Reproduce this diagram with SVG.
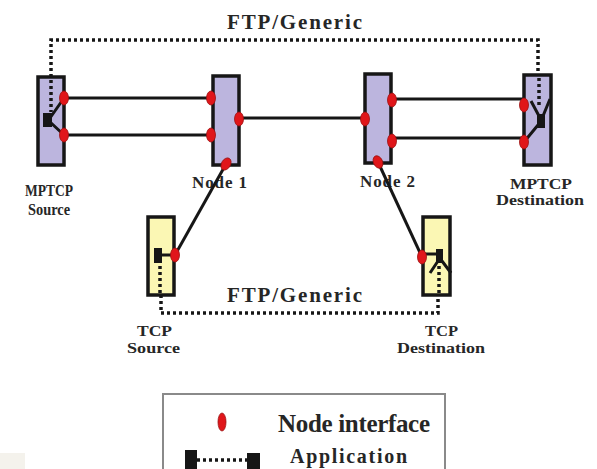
<svg xmlns="http://www.w3.org/2000/svg" width="597" height="469" viewBox="0 0 597 469">
<style>
.box{stroke:#161616;stroke-width:3.5}
.mp{fill:#bcb5de}
.tcp{fill:#fbf7b4}
.ifc{fill:#e0161a;stroke:#9a1010;stroke-width:0.8}
.ln{stroke:#161616;stroke-width:3;fill:none}
.dot{stroke:#161616;stroke-width:3.5;fill:none;stroke-dasharray:3 3}
.app{fill:#161616}
text{font-family:"Liberation Serif","Times New Roman",serif;font-weight:bold;fill:#262626}
</style>
<rect x="0" y="453" width="25" height="16" fill="#f4f2ec"/>
<g id="labels">
<text x="227" y="29" font-size="21" textLength="135">FTP/Generic</text>
<text x="227" y="302" font-size="21" textLength="135">FTP/Generic</text>
<text x="25" y="196" font-size="16" textLength="48" lengthAdjust="spacingAndGlyphs">MPTCP</text>
<text x="28" y="215" font-size="16" textLength="42" lengthAdjust="spacingAndGlyphs">Source</text>
<text x="192" y="188" font-size="17" textLength="55">Node 1</text>
<text x="360" y="187" font-size="17" textLength="55">Node 2</text>
<text x="510" y="189" font-size="15" textLength="62" lengthAdjust="spacingAndGlyphs">MPTCP</text>
<text x="496" y="205" font-size="15" textLength="88" lengthAdjust="spacingAndGlyphs">Destination</text>
<text x="137" y="336" font-size="15" textLength="35" lengthAdjust="spacingAndGlyphs">TCP</text>
<text x="127" y="353" font-size="15" textLength="53" lengthAdjust="spacingAndGlyphs">Source</text>
<text x="425" y="336" font-size="15" textLength="33" lengthAdjust="spacingAndGlyphs">TCP</text>
<text x="397" y="353" font-size="15" textLength="88" lengthAdjust="spacingAndGlyphs">Destination</text>
</g>
<g id="connectors">
<path class="dot" d="M51 113 V40 H538 V106"/>
<path class="dot" d="M161 265 V313 H438 V272"/>
<line class="ln" x1="64" y1="98" x2="211" y2="98"/>
<line class="ln" x1="64" y1="135" x2="211" y2="135"/>
<line class="ln" x1="239" y1="118" x2="365" y2="118"/>
<line class="ln" x1="392" y1="99" x2="524" y2="99"/>
<line class="ln" x1="392" y1="138" x2="524" y2="138"/>
<line class="ln" x1="226" y1="164" x2="175" y2="255"/>
<line class="ln" x1="378" y1="162" x2="422" y2="257"/>
</g>
<g id="mptcp-source">
<rect class="box mp" x="38" y="77" width="26" height="88"/>
<path class="dot" d="M51 80 V112"/>
<path class="ln" d="M50 118 L64 98 M50 122 L64 135"/>
<rect class="app" x="43" y="113" width="9" height="14"/>
<ellipse class="ifc" cx="64" cy="98" rx="4.5" ry="7"/>
<ellipse class="ifc" cx="64" cy="135" rx="4.5" ry="7"/>
</g>
<g id="node1">
<rect class="box mp" x="213" y="76" width="26" height="89"/>
<ellipse class="ifc" cx="211" cy="98" rx="4.5" ry="7"/>
<ellipse class="ifc" cx="211" cy="135" rx="4.5" ry="7"/>
<ellipse class="ifc" cx="239" cy="119" rx="4.5" ry="7"/>
<ellipse class="ifc" cx="226" cy="164" rx="4.5" ry="6.5" transform="rotate(30 226 164)"/>
</g>
<g id="node2">
<rect class="box mp" x="365" y="74" width="26" height="89"/>
<ellipse class="ifc" cx="365" cy="119" rx="4.5" ry="7"/>
<ellipse class="ifc" cx="392" cy="100" rx="4.5" ry="7"/>
<ellipse class="ifc" cx="392" cy="141" rx="4.5" ry="7"/>
<ellipse class="ifc" cx="378" cy="162" rx="4.5" ry="6.5" transform="rotate(-25 378 162)"/>
</g>
<g id="mptcp-destination">
<rect class="box mp" x="524" y="75" width="27" height="90"/>
<path class="dot" d="M539 78 V108"/>
<path class="ln" d="M531 101 L539 116 M550 99 L543 116 M538 125 L524 142"/>
<rect class="app" x="537" y="114" width="8" height="14"/>
<ellipse class="ifc" cx="524" cy="105" rx="4.5" ry="7"/>
<ellipse class="ifc" cx="524" cy="142" rx="4.5" ry="7"/>
</g>
<g id="tcp-source">
<rect class="box tcp" x="148" y="217" width="26" height="78"/>
<path class="dot" d="M160 266 V293"/>
<line class="ln" x1="158" y1="255" x2="175" y2="255"/>
<rect class="app" x="154" y="248" width="8" height="15"/>
<ellipse class="ifc" cx="175" cy="255" rx="4.5" ry="7"/>
</g>
<g id="tcp-destination">
<rect class="box tcp" x="423" y="217" width="27" height="78"/>
<path class="dot" d="M439 266 V293"/>
<path class="ln" d="M422 254 H440 M438 261 L430 273 M442 261 L451 273"/>
<rect class="app" x="436" y="249" width="7" height="14"/>
<ellipse class="ifc" cx="422" cy="257" rx="4.5" ry="7"/>
</g>
<g id="legend">
<rect x="163" y="394" width="282" height="90" fill="#ffffff" stroke="#8a8a8a" stroke-width="2"/>
<ellipse class="ifc" cx="222" cy="422" rx="4" ry="9"/>
<text x="278" y="432" font-size="25" textLength="152">Node interface</text>
<rect class="app" x="185" y="450" width="12" height="25"/>
<rect class="app" x="247" y="453" width="13" height="22"/>
<path class="dot" d="M197 460 H247" stroke-width="3"/>
<text x="290" y="463" font-size="20" textLength="117">Application</text>
</g>
</svg>
